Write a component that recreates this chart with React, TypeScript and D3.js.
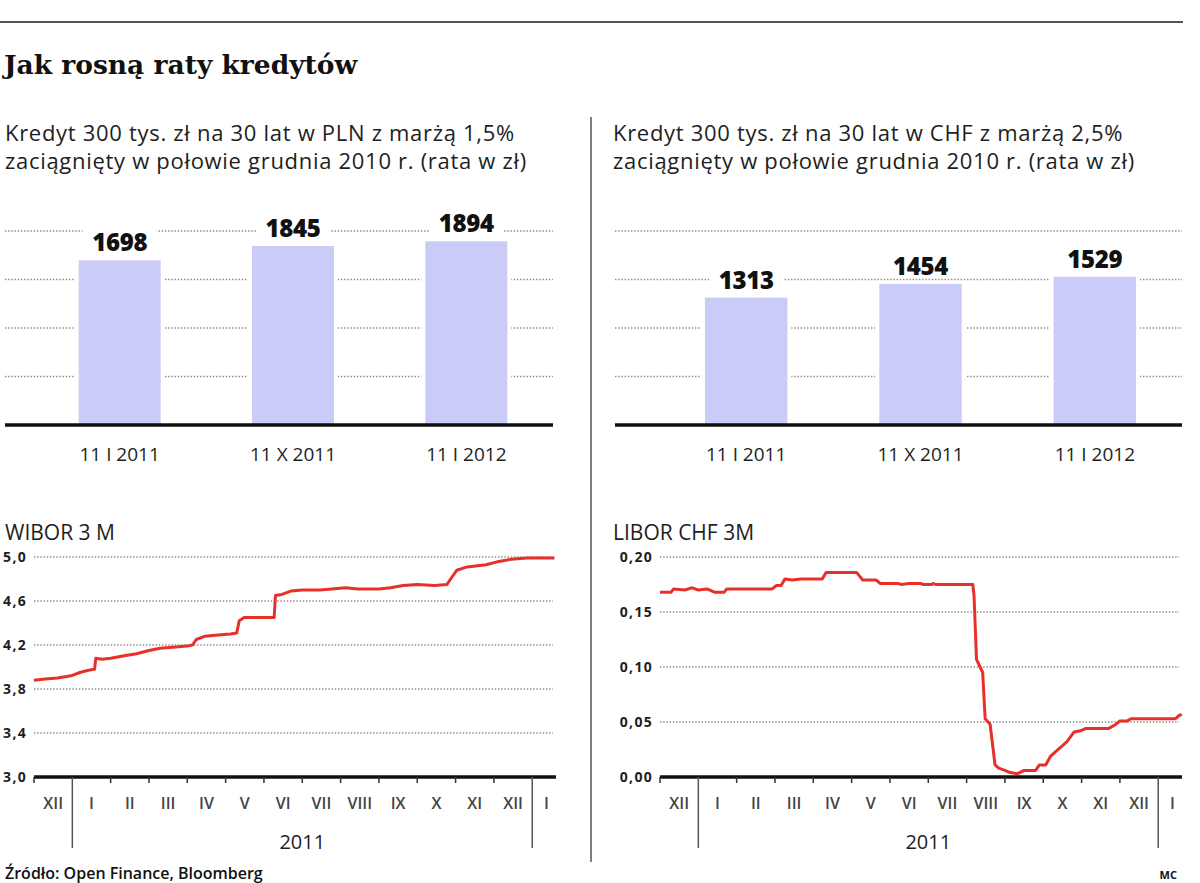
import React from "react";
import * as d3 from "d3";

// ---------- data ----------
const barCategories = ["11 I 2011", "11 X 2011", "11 I 2012"];
const plnValues = [1698, 1845, 1894];
const chfValues = [1313, 1454, 1529];
const barTicks = [500, 1000, 1500, 2000];

const monthLabels = ["XII", "I", "II", "III", "IV", "V", "VI", "VII", "VIII", "IX", "X", "XI", "XII", "I"];

const wiborTicks = [3.0, 3.4, 3.8, 4.2, 4.6, 5.0];
const wiborDates = [
  "2010-12-01", "2010-12-10", "2010-12-20", "2010-12-31", "2011-01-07", "2011-01-14", "2011-01-19",
  "2011-01-20", "2011-01-25", "2011-02-01", "2011-02-10", "2011-02-20", "2011-03-01", "2011-03-10",
  "2011-03-20", "2011-04-01", "2011-04-05", "2011-04-08", "2011-04-15", "2011-04-25", "2011-05-05",
  "2011-05-10", "2011-05-12", "2011-05-16", "2011-05-25", "2011-06-05", "2011-06-09", "2011-06-10",
  "2011-06-15", "2011-06-22", "2011-07-01", "2011-07-15", "2011-07-25", "2011-08-05", "2011-08-15",
  "2011-09-01", "2011-09-10", "2011-09-20", "2011-10-01", "2011-10-15", "2011-10-25", "2011-10-28",
  "2011-11-02", "2011-11-10", "2011-11-25", "2011-12-05", "2011-12-15", "2011-12-28", "2012-01-05",
  "2012-01-19",
];
const wiborValues = [
  3.88, 3.89, 3.9, 3.92, 3.95, 3.97, 3.98,
  4.08, 4.07, 4.08, 4.1, 4.12, 4.15, 4.17,
  4.18, 4.19, 4.2, 4.25, 4.28, 4.29, 4.3,
  4.31, 4.42, 4.45, 4.45, 4.45, 4.45, 4.65,
  4.66, 4.69, 4.7, 4.7, 4.71, 4.72, 4.71,
  4.71, 4.72, 4.74, 4.75, 4.74, 4.75, 4.8,
  4.88, 4.91, 4.93, 4.96, 4.98, 4.99, 4.99,
  4.99,
];

const liborTicks = [0, 0.05, 0.1, 0.15, 0.2];
const liborDates = [
  "2010-12-01", "2010-12-10", "2010-12-12", "2010-12-21", "2010-12-27", "2011-01-01", "2011-01-08",
  "2011-01-14", "2011-01-22", "2011-01-24", "2011-02-27", "2011-03-02", "2011-03-06", "2011-03-09",
  "2011-03-15", "2011-03-22", "2011-04-08", "2011-04-11", "2011-05-05", "2011-05-10", "2011-05-21",
  "2011-05-24", "2011-06-07", "2011-06-10", "2011-06-16", "2011-06-25", "2011-06-27", "2011-07-04",
  "2011-07-05", "2011-07-07", "2011-08-06", "2011-08-07", "2011-08-09", "2011-08-14", "2011-08-16",
  "2011-08-20", "2011-08-24", "2011-08-27", "2011-09-01", "2011-09-05", "2011-09-11", "2011-09-16",
  "2011-09-25", "2011-09-28", "2011-10-03", "2011-10-07", "2011-10-14", "2011-10-20", "2011-10-26",
  "2011-10-31", "2011-11-04", "2011-11-22", "2011-11-28", "2011-12-01", "2011-12-07", "2011-12-10",
  "2012-01-15", "2012-01-18", "2012-01-20",
];
const liborValues = [
  0.168, 0.168, 0.171, 0.17, 0.172, 0.17, 0.171,
  0.168, 0.168, 0.171, 0.171, 0.174, 0.174, 0.18,
  0.179, 0.18, 0.18, 0.186, 0.186, 0.179, 0.179,
  0.176, 0.176, 0.175, 0.176, 0.176, 0.175, 0.175,
  0.176, 0.175, 0.175, 0.165, 0.107, 0.095, 0.053,
  0.048, 0.011, 0.008, 0.006, 0.004, 0.003, 0.006,
  0.006, 0.011, 0.011, 0.019, 0.026, 0.032, 0.041,
  0.042, 0.044, 0.044, 0.048, 0.051, 0.051, 0.053,
  0.053, 0.056, 0.057,
];

// ---------- helpers ----------
function monthIndex(s: string): number {
  const [y, m, d] = s.split("-").map(Number);
  const dim = new Date(y, m, 0).getDate();
  return (y - 2010) * 12 + (m - 12) + (d - 1) / dim;
}

const SANS = "'Open Sans', sans-serif";
const INK = "#1e1e1e";
const GRID = "#8a8a8a";
const RED = "#e8302a";
const BAR = "#cbcbf7";

function BarPanel({ x0, gridX0, gridX1, bandX0, values, subtitle }: { x0: number; gridX0: number; gridX1: number; bandX0: number; values: number[]; subtitle: string[] }) {
  const y = d3.scaleLinear().domain([0, 2000]).range([425, 231]);
  const x = d3.scaleBand<string>().domain(barCategories).range([bandX0, gridX1]).paddingInner(0.527).paddingOuter(0.2635);
  return (
    <g>
      {subtitle.map((s, i) => (
        <text key={i} x={x0} y={141 + i * 28} fontFamily={SANS} fontSize={22} letterSpacing={0.7} fill={INK}>{s}</text>
      ))}
      {barTicks.map((t) => (
        <line key={t} x1={gridX0} x2={gridX1} y1={y(t)} y2={y(t)} stroke={GRID} strokeWidth={1.4} strokeDasharray="1.4,1.8" />
      ))}
      {values.map((v, i) => {
        const c = barCategories[i];
        const bx = x(c)!;
        const bw = x.bandwidth();
        return (
          <g key={c}>
            <rect x={bx - 4} y={y(v) - 2} width={bw + 8} height={y(0) - y(v) + 2} fill="#fff" />
            <rect x={bx} y={y(v)} width={bw} height={y(0) - y(v)} fill={BAR} />
            <rect x={bx + bw / 2 - 37} y={y(v) - 32} width={74} height={26} fill="#fff" />
            <text x={bx + bw / 2} y={y(v) - 9} textAnchor="middle" fontFamily={SANS} fontWeight={800} fontSize={24} letterSpacing={-0.3} fill="#111">{v}</text>
            <text x={bx + bw / 2} y={461} textAnchor="middle" fontFamily={SANS} fontSize={19} fill={INK}>{c}</text>
          </g>
        );
      })}
      <line x1={gridX0} x2={gridX1} y1={y(0)} y2={y(0)} stroke="#111" strokeWidth={3.5} />
    </g>
  );
}

function LinePanel({ title, x0, axisX0, axisX1, ticks, fmt, yDomain, dates, values }: {
  title: string; x0: number; axisX0: number; axisX1: number; ticks: number[]; fmt: (v: number) => string;
  yDomain: [number, number]; dates: string[]; values: number[];
}) {
  const top = 557, bottom = 777;
  const y = d3.scaleLinear().domain(yDomain).range([bottom, top]);
  const x = d3.scaleLinear().domain([0, 13.62]).range([axisX0, axisX1]);
  const pts: [number, number][] = dates.map((d, i) => [monthIndex(d), values[i]]);
  const line = d3.line<[number, number]>().x((p) => x(p[0])).y((p) => y(p[1]));
  return (
    <g>
      <text x={x0} y={540} fontFamily={SANS} fontSize={21} fill={INK}>{title}</text>
      {ticks.map((t, i) => (
        <g key={t}>
          {i > 0 && (
            <line x1={axisX0} x2={axisX1 - 3} y1={y(t)} y2={y(t)} stroke={GRID} strokeWidth={1.4} strokeDasharray="1.4,1.8" />
          )}
          <text x={axisX0 - 7} y={y(t)} dy="0.35em" textAnchor="end" fontFamily={SANS} fontWeight={700} fontSize={14} letterSpacing={1.3} fill={INK}>{fmt(t)}</text>
        </g>
      ))}
      <path d={line(pts) ?? ""} fill="none" stroke={RED} strokeWidth={3} strokeLinejoin="round" />
      <line x1={axisX0} x2={axisX1} y1={bottom} y2={bottom} stroke="#111" strokeWidth={3.5} />
      {d3.range(0, 14).map((m) => (
        <line key={m} x1={x(m)} x2={x(m)} y1={bottom} y2={m === 1 || m === 13 ? 848 : bottom + 6} stroke={m === 1 || m === 13 ? "#555" : "#333"} strokeWidth={1.5} />
      ))}
      {monthLabels.map((lab, i) => (
        <text key={i} x={i < 13 ? x(i + 0.5) : x(13.37)} y={809} textAnchor="middle" fontFamily={SANS} fontWeight={600} fontSize={16} fill="#444">{lab}</text>
      ))}
      <text x={x(7)} y={849} textAnchor="middle" fontFamily={SANS} fontSize={20} fill={INK}>2011</text>
    </g>
  );
}

export default function App() {
  return (
    <svg width={1200} height={883} viewBox="0 0 1200 883" style={{ position: "absolute", left: 0, top: 0, background: "#fff" }}>
      <rect width={1200} height={883} fill="#fff" />
      <line x1={0} x2={1183} y1={22} y2={22} stroke="#555" strokeWidth={2} />
      <text x={4} y={74} fontFamily="'DejaVu Serif', serif" fontWeight={700} fontSize={26.5} fill="#111">Jak rosną raty kredytów</text>
      <line x1={591} x2={591} y1={117} y2={862} stroke="#555" strokeWidth={1.5} />

      <BarPanel x0={5} gridX0={5} gridX1={553} bandX0={33} values={plnValues}
        subtitle={["Kredyt 300 tys. zł na 30 lat w PLN z marżą 1,5%", "zaciągnięty w połowie grudnia 2010 r. (rata w zł)"]} />
      <BarPanel x0={613} gridX0={615} gridX1={1182} bandX0={659} values={chfValues}
        subtitle={["Kredyt 300 tys. zł na 30 lat w CHF z marżą 2,5%", "zaciągnięty w połowie grudnia 2010 r. (rata w zł)"]} />

      <LinePanel title="WIBOR 3 M" x0={5} axisX0={34} axisX1={556} ticks={wiborTicks}
        fmt={(v) => v.toFixed(1).replace(".", ",")} yDomain={[3, 5]} dates={wiborDates} values={wiborValues} />
      <LinePanel title="LIBOR CHF 3M" x0={613} axisX0={660} axisX1={1182} ticks={liborTicks}
        fmt={(v) => v.toFixed(2).replace(".", ",")} yDomain={[0, 0.2]} dates={liborDates} values={liborValues} />

      <text x={5} y={879} fontFamily={SANS} fontWeight={600} fontSize={16} fill="#111">Źródło: Open Finance, Bloomberg</text>
      <text x={1177} y={879} textAnchor="end" fontFamily={SANS} fontWeight={700} fontSize={11} fill="#111">MC</text>
    </svg>
  );
}
